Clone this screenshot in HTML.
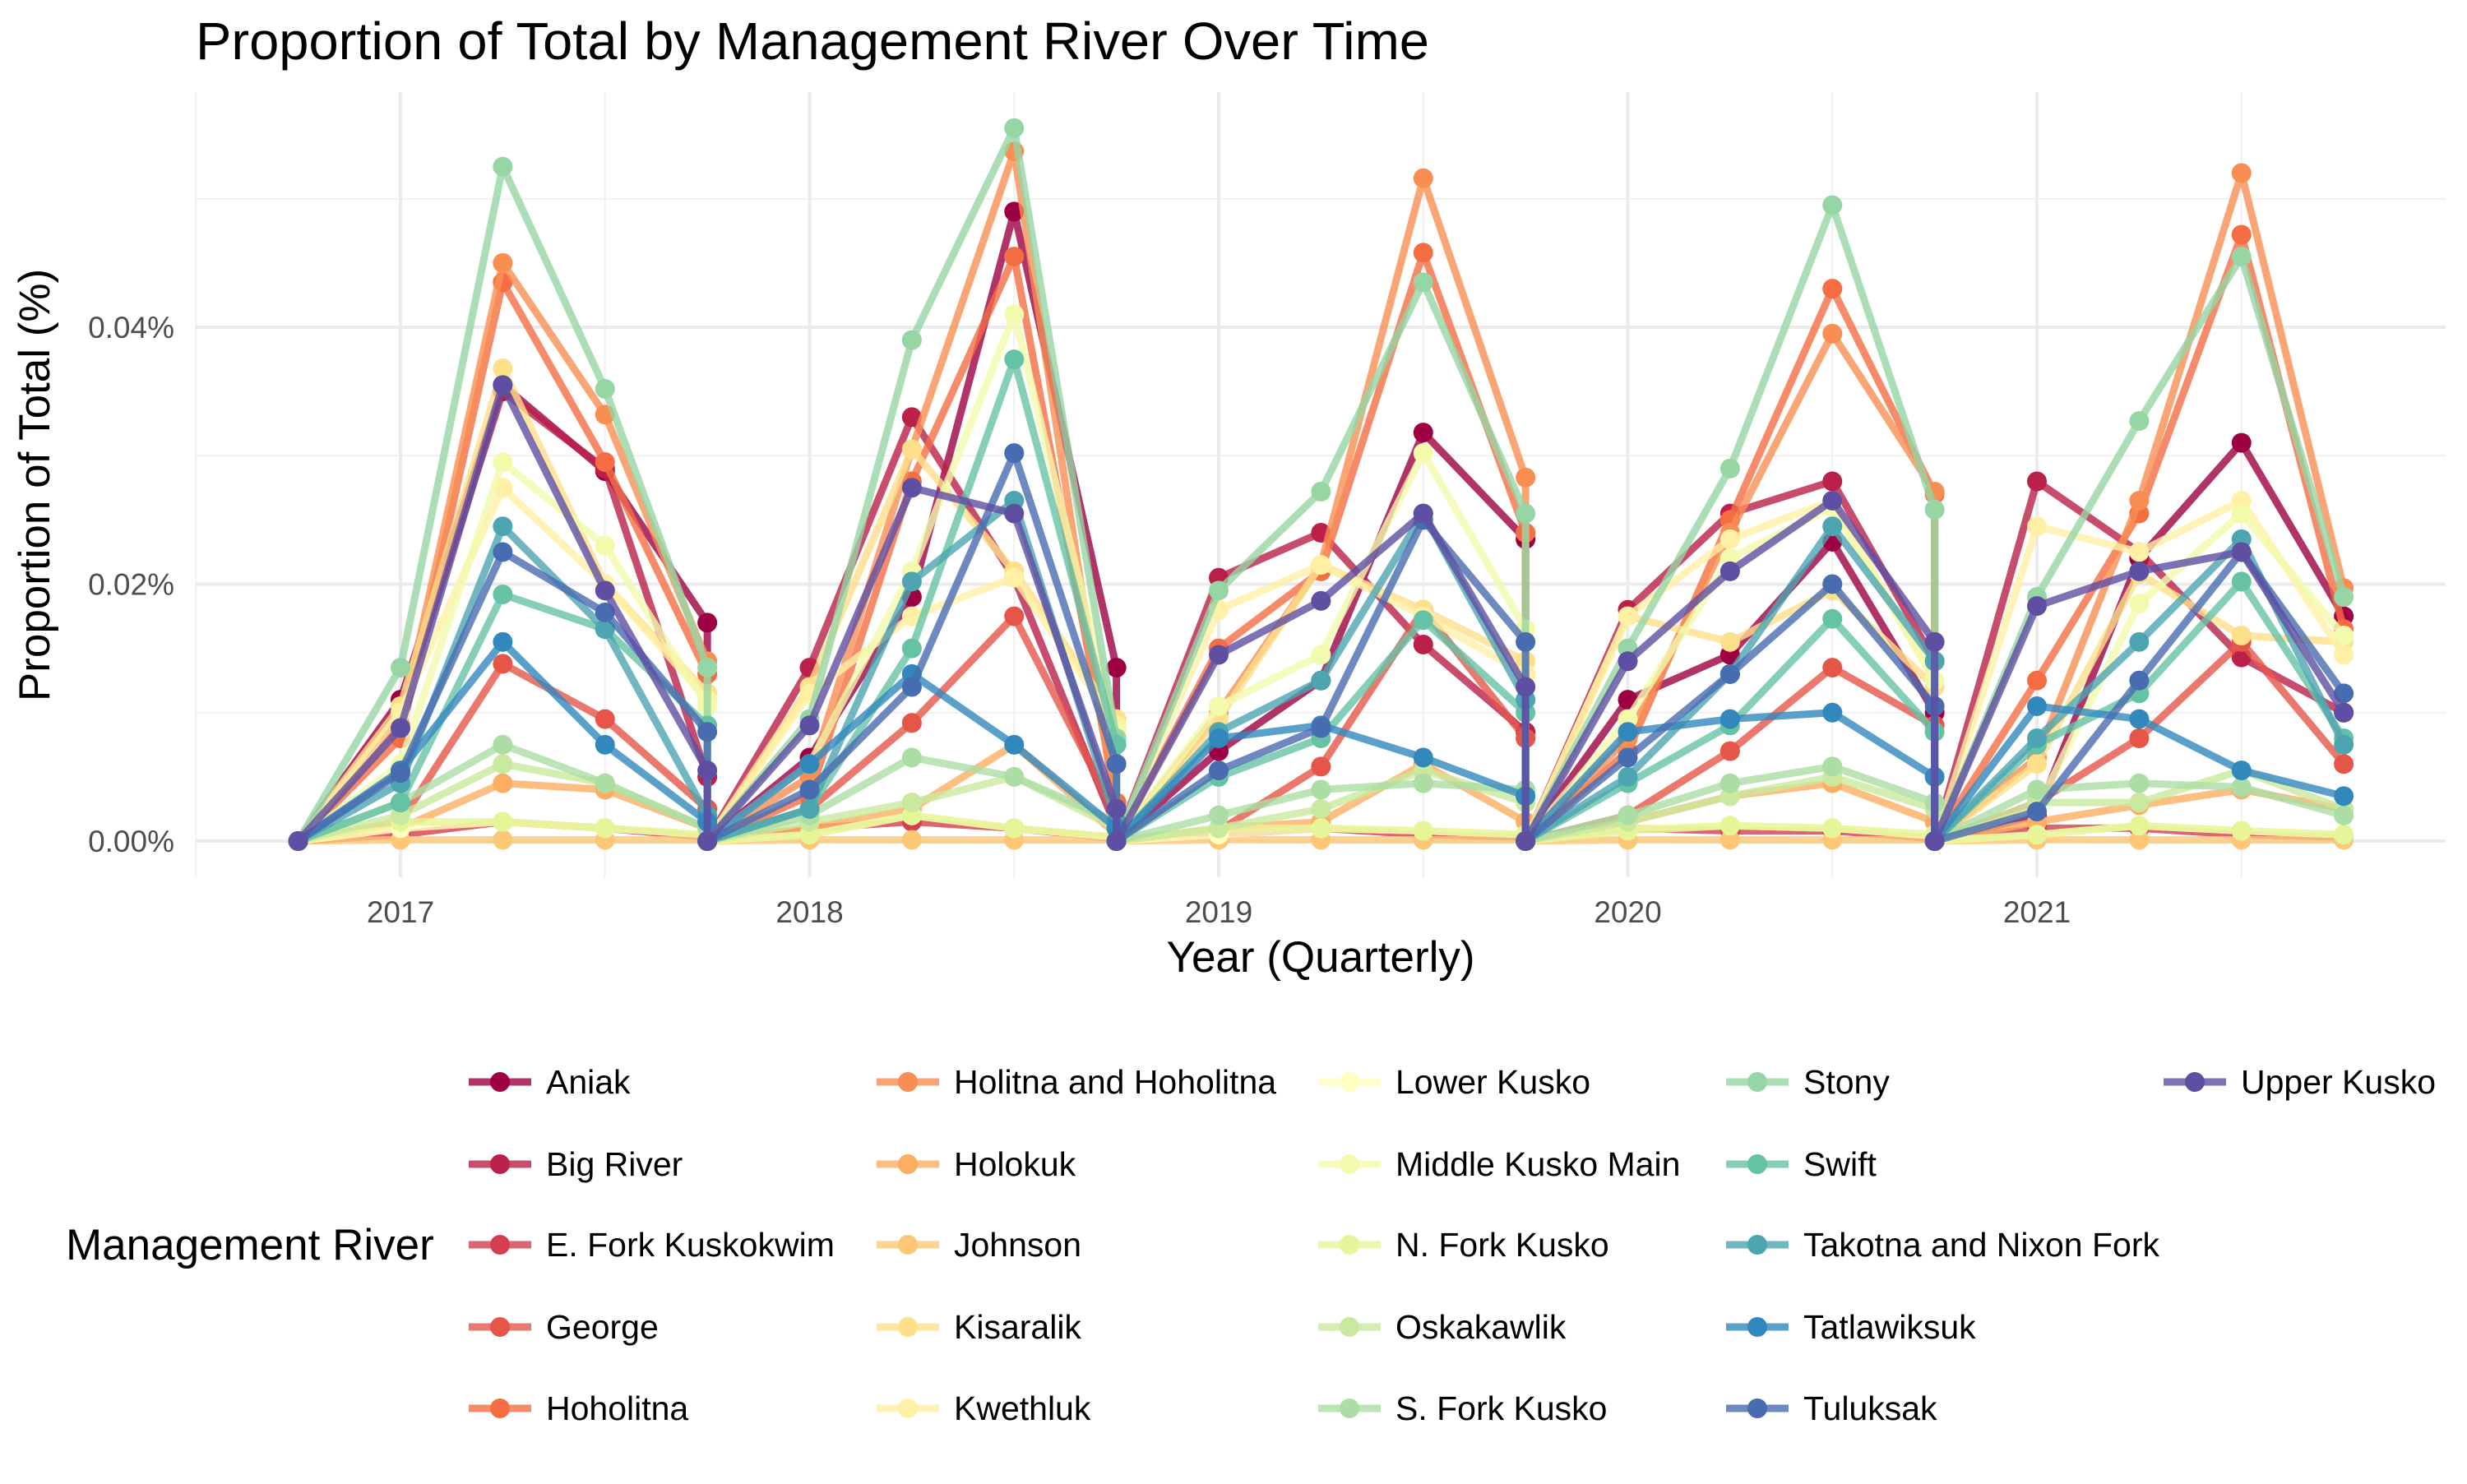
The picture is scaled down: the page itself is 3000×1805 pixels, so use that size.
<!DOCTYPE html>
<html><head><meta charset="utf-8"><style>
body{margin:0;background:#fff;}
svg text{font-family:"Liberation Sans",sans-serif;}
</style></head><body>
<svg id="chart" width="3000" height="1800" viewBox="0 0 3000 1800" xmlns="http://www.w3.org/2000/svg">
<rect width="3000" height="1800" fill="#fff"/>
<text x="238" y="72" font-size="64" fill="#000" textLength="1500" lengthAdjust="spacingAndGlyphs">Proportion of Total by Management River Over Time</text>
<g id="grid"></g>
<g id="series"></g>
<g id="axes"></g>
<text x="1606" y="1182" font-size="53" text-anchor="middle" fill="#000">Year (Quarterly)</text>
<text transform="translate(60,590) rotate(-90)" font-size="53" text-anchor="middle" fill="#000">Proportion of Total (%)</text>
<text x="80" y="1532" font-size="53" fill="#000">Management River</text>
<g id="legend"></g>
</svg>
<script>
const quarters=[2016.75,2017,2017.25,2017.5,2017.75,2018,2018.25,2018.5,2018.75,2019,2019.25,2019.5,2019.75,2020,2020.25,2020.5,2020.75,2021,2021.25,2021.5,2021.75];
const seriesNames=["Aniak","Big River","E. Fork Kuskokwim","George","Hoholitna","Holitna and Hoholitna","Holokuk","Johnson","Kisaralik","Kwethluk","Lower Kusko","Middle Kusko Main","N. Fork Kusko","Oskakawlik","S. Fork Kusko","Stony","Swift","Takotna and Nixon Fork","Tatlawiksuk","Tuluksak","Upper Kusko"];
const colors=["#9E0142","#BA2049","#D53E4F","#E55649","#F46D43","#F88E52","#FDAE61","#FEC776","#FEE08B","#FFF0A5","#FFFFBF","#F3FAAC","#E6F598","#C9E99E","#ABDDA4","#96D5A4","#66C2A5","#4CA5B1","#3288BD","#486CB0","#5E4FA2"];
// values in units of 0.001 %
const vAniak=[0,11,35.5,28.8,17,6.5,19,49,13.5,7,12.5,31.8,23.5,11,14.5,23.3,10,2,22,31,17.5];
const vBig=[0,10,35,29,5,13.5,33,20.5,1,20.5,24,15.3,8.5,18,25.5,28,14,28,22.5,14.3,10];
const vEFork=[0,0.5,1.5,1,0.3,1,1.5,1,0.2,0.5,1,0.5,0.3,1,0.8,0.8,0.2,1,1,0.5,0.3];
const vGeorge=[0,1.5,13.8,9.5,2.5,2.5,9.2,17.5,2,0.8,5.8,18,8,2,7,13.5,9,3,8,15.5,6];
const vHoholitna=[0,8,43.5,29.5,13,3.5,28,45.5,3,15,21,45.8,24,7,25,43,27,12.5,25.5,47.2,16.5];
const vHolitna=[0,9,45,33.2,14,5,30.5,53.7,2,10,21.5,51.6,28.3,8,24,39.5,27.2,6.5,26.5,52,19.7];
const vHolokuk=[0,1,4.5,4,1,1,2.5,7.5,0.5,1,1.5,6,1.5,1.5,3.5,4.5,1.5,1.5,2.8,4,2.5];
const vJohnson=[0,0.1,0.1,0.1,0.1,0.1,0.1,0.1,0.1,0.1,0.1,0.1,0.1,0.1,0.1,0.1,0.1,0.1,0.1,0.1,0.1];
const vKisaralik=[0,10.5,36.8,20,11.5,12,30.5,21,9.5,9.5,21.5,18,14,17.5,15.5,19.5,12,6,20.8,16,15.5];
const vKwethluk=[0,10,27.5,20,11,11.5,17.5,20.5,9,18,21.5,17.5,13,17.5,23.5,26.5,12.5,24.5,22.5,26.5,14.5];
const vLower=[0,1,1.5,1,0.5,0.5,2,1,0.3,0.5,1,0.8,0.5,1,1.2,1,0.4,0.5,1.2,0.8,0.5];
const vMiddle=[0,6,29.5,23,10.5,6,21,41,8.5,10.5,14.5,30.2,16.5,9.5,22,26,12.5,2.5,18.5,25.5,16];
const vNFork=[0,1.5,1.5,1,0.5,0.5,2,1,0.3,1,1,0.8,0.5,0.8,1.2,1,0.5,0.5,1.2,0.8,0.5];
const vOskakawlik=[0,2,6,4.5,1,1.5,3,5,1,1,2.5,5.5,3,1.5,3.5,5,2.5,3,3,5.5,2.5];
const vSFork=[0,3,7.5,4.5,1,2,6.5,5,1.5,2,4,4.5,4,2,4.5,5.8,3,4,4.5,4.2,2];
const vStony=[0,13.5,52.5,35.2,13.5,9.5,39,55.5,8,19.5,27.2,43.5,25.5,15,29,49.5,25.8,19,32.7,45.5,19];
const vSwift=[0,3,19.2,16.5,9,2.5,15,37.5,7.5,5,8,17.2,10,4.5,9,17.3,8.5,7.5,11.5,20.2,8];
const vTakotna=[0,4.5,24.5,16.5,2,2.5,20.2,26.5,1.5,8.5,12.5,25.5,11,5,13,24.5,14,8,15.5,23.5,7.5];
const vTatlawiksuk=[0,5.5,15.5,7.5,1.5,6,13,7.5,1,8,9,6.5,3.5,8.5,9.5,10,5,10.5,9.5,5.5,3.5];
const vTuluksak=[0,5.3,22.5,17.8,8.5,4,12,30.2,6,5.5,8.8,25,15.5,6.5,13,20,10.5,2.3,12.5,22.5,11.5];
const vUpper=[0,8.8,35.5,19.5,5.5,9,27.5,25.5,2.5,14.5,18.7,25.5,12,14,21,26.5,15.5,18.3,21,22.5,10];
const allValues=[vAniak,vBig,vEFork,vGeorge,vHoholitna,vHolitna,vHolokuk,vJohnson,vKisaralik,vKwethluk,vLower,vMiddle,vNFork,vOskakawlik,vSFork,vStony,vSwift,vTakotna,vTatlawiksuk,vTuluksak,vUpper];
const yTicks=[0,20,40];
const yTickLabels=["0.00%","0.02%","0.04%"];
const xTicks=[2017,2018,2019,2020,2021];

const NS="http://www.w3.org/2000/svg";
const PL=238,PR=2974,PT=112,PB=1067;
function xs(t){return 487+(t-2017)*497.5;}
function ys(v){return 1023-v*15.625;}
function mk(tag,attrs,parent){const e=document.createElementNS(NS,tag);for(const k in attrs)e.setAttribute(k,attrs[k]);parent.appendChild(e);return e;}
const grid=document.getElementById('grid'),axes=document.getElementById('axes'),ser=document.getElementById('series'),leg=document.getElementById('legend');
for(let v=-10;v<=60;v+=10){if(v%20===0)continue;const y=ys(v);if(y<PT||y>PB)continue;
 const l=mk('line',{x1:PL,x2:PR,y1:y,y2:y,stroke:'#f0f0f0','stroke-width':2},grid);
 }
for(let t=2016.5;t<=2022;t+=1){const x=xs(t);if(x<PL||x>PR)continue;
 const l=mk('line',{x1:x,x2:x,y1:PT,y2:PB,stroke:'#f0f0f0','stroke-width':2},grid);
 }
yTicks.forEach((v,i)=>{const y=ys(v);
 const l=mk('line',{x1:PL,x2:PR,y1:y,y2:y,stroke:'#ebebeb','stroke-width':4},grid);
 
 const t=mk('text',{x:212,y:y+13,'font-size':37,'text-anchor':'end',fill:'#4d4d4d'},axes);t.textContent=yTickLabels[i];
 });
xTicks.forEach(tk=>{const x=xs(tk);
 const l=mk('line',{x1:x,x2:x,y1:PT,y2:PB,stroke:'#ebebeb','stroke-width':4},grid);
 
 const t=mk('text',{x:x,y:1122,'font-size':37,'text-anchor':'middle',fill:'#4d4d4d'},axes);t.textContent=tk;
 });
allValues.forEach((vals,si)=>{
 const g=mk('g',{},ser);
 
 
 const pts=[];
 vals.forEach((v,i)=>{const q=quarters[i];pts.push([xs(q),ys(v)]);
  if(Math.abs(q%1-0.75)<1e-6&&i>0&&i<vals.length-1)pts.push([xs(q),ys(0)]);});
 const p=mk('polyline',{points:pts.map(p=>p.join(',')).join(' '),fill:'none',stroke:colors[si],'stroke-width':9,'stroke-opacity':0.8,'stroke-linejoin':'round'},g);
 
 pts.forEach(pt=>{const c=mk('circle',{cx:pt[0],cy:pt[1],r:12,fill:colors[si]},g);
  });
});
const colX=[570,1066,1603,2099,2631],rowY=[1316,1416,1514,1614,1713];
seriesNames.forEach((n,i)=>{const cx=colX[Math.floor(i/5)],cy=rowY[i%5];
 const g=mk('g',{},leg);
 
 mk('line',{x1:cx,x2:cx+76,y1:cy,y2:cy,stroke:colors[i],'stroke-width':9,'stroke-opacity':0.8},g);
 mk('circle',{cx:cx+38,cy:cy,r:12,fill:colors[i]},g);
 const t=mk('text',{x:cx+94,y:cy+14,'font-size':41,fill:'#000'},g);t.textContent=n;
 });
</script>
</body></html>
